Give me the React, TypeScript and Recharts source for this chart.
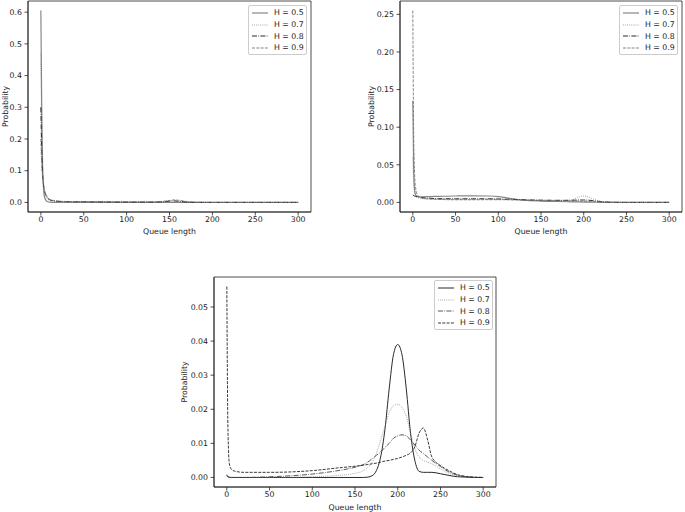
import { LineChart, Line, XAxis, YAxis, ReferenceArea, Legend } from 'recharts';

const FONT = '"DejaVu Sans", sans-serif';
const INK = '#222';
const FONT_SIZE = 7.8;

const SERIES_NAMES = ['H = 0.5', 'H = 0.7', 'H = 0.8', 'H = 0.9'];
const SERIES_KEYS = ['h05', 'h07', 'h08', 'h09'];
const QUEUE_TICKS = [0, 50, 100, 150, 200, 250, 300];

// top-left panel
const LEFT_QUEUE = [0, 1, 2, 3, 4, 6, 8, 10, 15, 20, 30, 50, 75, 100, 125, 140, 150, 155, 160, 170, 180, 200, 250, 300];
const LEFT_H05 = [0.605, 0.3, 0.12, 0.05, 0.02, 0.006, 0.002, 0.001, 0.0003, 0.0001, 0, 0, 0, 0, 0, 0, 0, 0, 0, 0, 0, 0, 0, 0];
const LEFT_H07 = [0.47, 0.22, 0.1, 0.055, 0.035, 0.018, 0.01, 0.007, 0.004, 0.003, 0.002, 0.0015, 0.001, 0.0008, 0.0005, 0.0003, 0.0002, 0.0001, 0, 0, 0, 0, 0, 0];
const LEFT_H08 = [0.3, 0.16, 0.09, 0.06, 0.04, 0.022, 0.013, 0.009, 0.005, 0.0035, 0.0025, 0.002, 0.0015, 0.001, 0.001, 0.002, 0.004, 0.005, 0.004, 0.001, 0.0002, 0, 0, 0];
const LEFT_H09 = [0.2, 0.12, 0.08, 0.055, 0.04, 0.025, 0.015, 0.01, 0.006, 0.004, 0.003, 0.0025, 0.002, 0.0015, 0.0015, 0.003, 0.006, 0.008, 0.007, 0.003, 0.0005, 0, 0, 0];
const LEFT_Y_TICKS = [0, 0.1, 0.2, 0.3, 0.4, 0.5, 0.6];

// top-right panel
const RIGHT_QUEUE = [0, 1, 2, 3, 5, 8, 10, 20, 30, 50, 70, 90, 100, 110, 120, 130, 150, 170, 185, 190, 195, 200, 205, 210, 220, 230, 250, 300];
const RIGHT_H05 = [0.135, 0.045, 0.018, 0.011, 0.008, 0.0075, 0.0075, 0.0078, 0.008, 0.0085, 0.0088, 0.0085, 0.0078, 0.006, 0.0042, 0.003, 0.0018, 0.0012, 0.0008, 0.0007, 0.0006, 0.0005, 0.0004, 0.0003, 0.0001, 0, 0, 0];
const RIGHT_H07 = [0.06, 0.025, 0.012, 0.009, 0.007, 0.0055, 0.005, 0.0045, 0.004, 0.004, 0.004, 0.004, 0.004, 0.0038, 0.0035, 0.003, 0.0025, 0.0022, 0.003, 0.005, 0.0075, 0.0085, 0.0075, 0.005, 0.0015, 0.0003, 0, 0];
const RIGHT_H08 = [0.01, 0.009, 0.0085, 0.008, 0.0075, 0.007, 0.0065, 0.0055, 0.005, 0.0048, 0.0048, 0.0048, 0.0046, 0.0042, 0.004, 0.0035, 0.003, 0.0028, 0.0028, 0.003, 0.0032, 0.0032, 0.003, 0.0025, 0.001, 0.0003, 0, 0];
const RIGHT_H09 = [0.255, 0.09, 0.04, 0.022, 0.011, 0.007, 0.006, 0.0045, 0.004, 0.0035, 0.0035, 0.0036, 0.0036, 0.0035, 0.0032, 0.003, 0.0025, 0.002, 0.0018, 0.0018, 0.0017, 0.0016, 0.0014, 0.0012, 0.0006, 0.0002, 0, 0];
const RIGHT_Y_TICKS = [0, 0.05, 0.1, 0.15, 0.2, 0.25];

// bottom panel
const BOTTOM_QUEUE = [0, 1, 2, 3, 5, 10, 20, 50, 100, 130, 150, 160, 165, 170, 175, 180, 185, 190, 195, 200, 205, 210, 215, 220, 225, 230, 235, 240, 250, 260, 270, 280, 290, 300];
const BOTTOM_H05 = [0.0008, 0.0003, 0.0001, 0, 0, 0, 0, 0, 0, 0, 0, 0, 0.0001, 0.0005, 0.002, 0.006, 0.014, 0.026, 0.036, 0.039, 0.036, 0.026, 0.013, 0.005, 0.0018, 0.0015, 0.0015, 0.0015, 0.0011, 0.0006, 0.0002, 0.0001, 0, 0];
const BOTTOM_H07 = [0.0003, 0.0002, 0.0001, 0, 0, 0, 0, 0, 0.0002, 0.0006, 0.0012, 0.002, 0.003, 0.0045, 0.007, 0.011, 0.015, 0.019, 0.021, 0.0215, 0.0205, 0.018, 0.013, 0.0085, 0.006, 0.005, 0.0045, 0.004, 0.0025, 0.0012, 0.0005, 0.0002, 0, 0];
const BOTTOM_H08 = [0.0005, 0.0003, 0.0002, 0.0001, 0, 0, 0, 0.0002, 0.001, 0.002, 0.003, 0.0038, 0.0045, 0.0055, 0.0065, 0.0075, 0.0088, 0.01, 0.0115, 0.0122, 0.0125, 0.0122, 0.011, 0.0095, 0.008, 0.007, 0.006, 0.005, 0.0032, 0.0016, 0.0007, 0.0002, 0, 0];
const BOTTOM_H09 = [0.056, 0.02, 0.008, 0.004, 0.0025, 0.0018, 0.0015, 0.0015, 0.002, 0.0028, 0.0033, 0.0036, 0.0038, 0.004, 0.0042, 0.0045, 0.0048, 0.005, 0.0053, 0.0056, 0.006, 0.0065, 0.0072, 0.009, 0.013, 0.0145, 0.011, 0.006, 0.0035, 0.002, 0.0008, 0.0003, 0.0001, 0];
const BOTTOM_Y_TICKS = [0, 0.01, 0.02, 0.03, 0.04, 0.05];

type Style = { color: string; width: number; dash?: string };

const TOP_STYLES: Style[] = [
  { color: '#888', width: 1.2 },
  { color: '#777', width: 0.8, dash: '0.8 1.3' },
  { color: '#111', width: 0.9, dash: '5 1.3 0.8 1.3' },
  { color: '#777', width: 0.9, dash: '3 1.3' },
];
const BOTTOM_STYLES: Style[] = [
  { color: '#111', width: 0.9 },
  { color: '#777', width: 0.8, dash: '0.8 1.3' },
  { color: '#444', width: 0.9, dash: '5 1.3 0.8 1.3' },
  { color: '#222', width: 0.9, dash: '3 1.3' },
];

function toRows(queue: number[], series: number[][]) {
  return queue.map((q, i) => {
    const row: Record<string, number> = { q };
    SERIES_KEYS.forEach((k, j) => (row[k] = series[j][i]));
    return row;
  });
}

const tickStyle = { fontSize: FONT_SIZE, fill: INK, fontFamily: FONT };

function XTitle({ viewBox, dy }: any) {
  const cx = viewBox.x + viewBox.width / 2;
  const cy = viewBox.y + dy;
  return (
    <text x={cx} y={cy} textAnchor="middle" dominantBaseline="central" fontSize={FONT_SIZE} fill={INK} fontFamily={FONT}>
      Queue length
    </text>
  );
}

function YTitle({ viewBox, dx }: any) {
  const cx = viewBox.x + dx;
  const cy = viewBox.y + viewBox.height / 2;
  return (
    <text x={cx} y={cy} transform={`rotate(-90 ${cx} ${cy})`} textAnchor="middle" dominantBaseline="central" fontSize={FONT_SIZE} fill={INK} fontFamily={FONT}>
      Probability
    </text>
  );
}

function LegendBox({ styles }: { styles: Style[] }) {
  return (
    <div style={{ width: 57, height: 47, border: '1px solid #ccc', borderRadius: 2, background: 'rgba(255,255,255,0.8)', paddingTop: 1.2, fontFamily: FONT, fontSize: FONT_SIZE, color: INK }}>
      {SERIES_NAMES.map((name, i) => (
        <div key={name} style={{ display: 'flex', alignItems: 'center', height: 11.6 }}>
          <svg width={16} height={4} style={{ marginLeft: 3 }}>
            <line x1={0} y1={2} x2={16} y2={2} stroke={styles[i].color} strokeWidth={styles[i].width} strokeDasharray={styles[i].dash} />
          </svg>
          <span style={{ marginLeft: 6, whiteSpace: 'nowrap' }}>{name}</span>
        </div>
      ))}
    </div>
  );
}

type PanelProps = {
  left: number;
  top: number;
  width: number;
  height: number;
  margin: { top: number; right: number; left: number; bottom: number };
  yAxisWidth: number;
  xAxisHeight: number;
  rows: Record<string, number>[];
  yDomain: [number, number];
  yTicks: number[];
  digits: number;
  styles: Style[];
  titleDx: number;
  titleDy: number;
  legendLeft: number;
  legendTop: number;
};

function Panel(p: PanelProps) {
  return (
    <div style={{ position: 'absolute', left: p.left, top: p.top }}>
      <LineChart width={p.width} height={p.height} data={p.rows} margin={p.margin}>
        <XAxis
          dataKey="q"
          type="number"
          domain={[-15, 315]}
          ticks={QUEUE_TICKS}
          interval={0}
          allowDataOverflow
          height={p.xAxisHeight}
          tickSize={3.5}
          tickMargin={1}
          tick={tickStyle}
          tickLine={{ stroke: INK, strokeWidth: 0.8 }}
          axisLine={{ stroke: INK, strokeWidth: 0.8 }}
          label={<XTitle dy={p.titleDy} />}
        />
        <YAxis
          type="number"
          domain={p.yDomain}
          ticks={p.yTicks}
          interval={0}
          allowDataOverflow
          width={p.yAxisWidth}
          tickSize={3.5}
          tickMargin={2.5}
          tickFormatter={(v: number) => v.toFixed(p.digits)}
          tick={tickStyle}
          tickLine={{ stroke: INK, strokeWidth: 0.8 }}
          axisLine={{ stroke: INK, strokeWidth: 0.8 }}
          label={<YTitle dx={p.titleDx} />}
        />
        <ReferenceArea x1={-15} x2={315} y1={p.yDomain[0]} y2={p.yDomain[1]} fill="none" stroke={INK} strokeWidth={0.8} />
        {SERIES_KEYS.map((k, i) => (
          <Line
            key={k}
            dataKey={k}
            name={SERIES_NAMES[i]}
            type="monotone"
            dot={false}
            activeDot={false}
            isAnimationActive={false}
            stroke={p.styles[i].color}
            strokeWidth={p.styles[i].width}
            strokeDasharray={p.styles[i].dash}
          />
        ))}
        <Legend
          layout="vertical"
          align="center"
          verticalAlign="middle"
          wrapperStyle={{ left: p.legendLeft, top: p.legendTop, width: 'auto', height: 'auto' }}
          content={() => <LegendBox styles={p.styles} />}
        />
      </LineChart>
    </div>
  );
}

export default function App() {
  return (
    <div style={{ position: 'absolute', left: 0, top: 0, width: 685, height: 512, background: '#fff', fontFamily: FONT }}>
      <Panel
        left={0}
        top={0}
        width={320}
        height={245}
        margin={{ top: 1, right: 9, left: 0, bottom: 0 }}
        yAxisWidth={28}
        xAxisHeight={33}
        rows={toRows(LEFT_QUEUE, [LEFT_H05, LEFT_H07, LEFT_H08, LEFT_H09])}
        yDomain={[-0.03025, 0.63525]}
        yTicks={LEFT_Y_TICKS}
        digits={1}
        styles={TOP_STYLES}
        titleDx={5}
        titleDy={19}
        legendLeft={248}
        legendTop={5}
      />
      <Panel
        left={345}
        top={0}
        width={340}
        height={245}
        margin={{ top: 1, right: 3, left: 0, bottom: 0 }}
        yAxisWidth={55}
        xAxisHeight={33}
        rows={toRows(RIGHT_QUEUE, [RIGHT_H05, RIGHT_H07, RIGHT_H08, RIGHT_H09])}
        yDomain={[-0.01275, 0.26775]}
        yTicks={RIGHT_Y_TICKS}
        digits={2}
        styles={TOP_STYLES}
        titleDx={26}
        titleDy={19}
        legendLeft={274}
        legendTop={5}
      />
      <Panel
        left={175}
        top={270}
        width={330}
        height={242}
        margin={{ top: 7, right: 9, left: 0, bottom: 0 }}
        yAxisWidth={39}
        xAxisHeight={25}
        rows={toRows(BOTTOM_QUEUE, [BOTTOM_H05, BOTTOM_H07, BOTTOM_H08, BOTTOM_H09])}
        yDomain={[-0.0028, 0.0588]}
        yTicks={BOTTOM_Y_TICKS}
        digits={2}
        styles={BOTTOM_STYLES}
        titleDx={9}
        titleDy={20}
        legendLeft={259}
        legendTop={10}
      />
    </div>
  );
}
